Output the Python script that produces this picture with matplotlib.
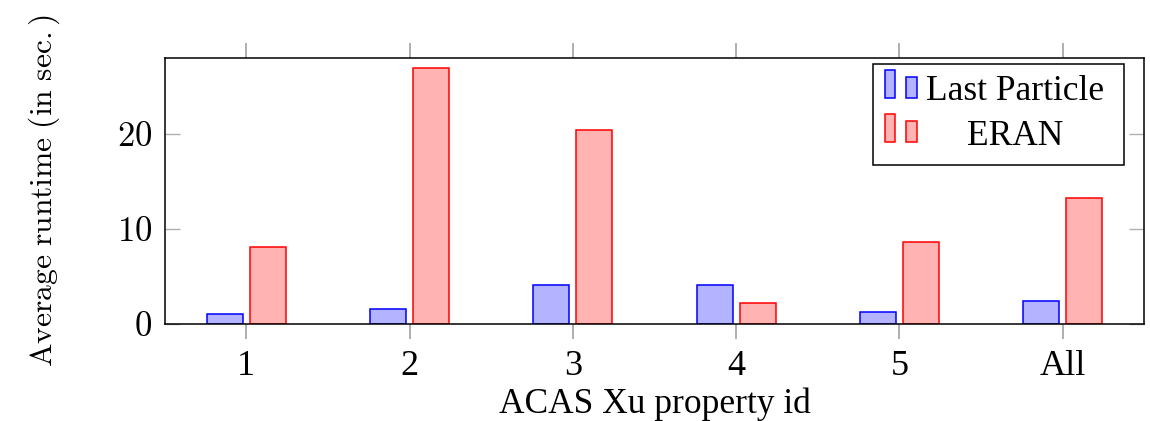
import matplotlib
matplotlib.use("Agg")
import matplotlib.pyplot as plt
import numpy as np
from matplotlib.patches import Rectangle
from matplotlib.offsetbox import AnchoredOffsetbox, DrawingArea, TextArea, VPacker, HPacker

# data
properties = ["1", "2", "3", "4", "5", "All"]
last_particle = [0.98, 1.55, 4.04, 4.04, 1.27, 2.39]
eran = [8.12, 26.9, 20.4, 2.14, 8.64, 13.25]

plt.rcParams["font.family"] = ["Liberation Serif", "DejaVu Serif"]
plt.rcParams["mathtext.fontset"] = "cm"

lp_face, lp_edge = "#b3b3ff", "#0000ff"
er_face, er_edge = "#ffb3b3", "#ff0000"

fig = plt.figure(figsize=(11.5, 4.21), dpi=100)
ax = fig.add_axes([0.1432, 0.2311, 0.8518, 0.6311])

x = np.arange(1, len(properties) + 1)
w = 0.22
off = 0.132
ax.bar(x - off, last_particle, w, color=lp_face, edgecolor=lp_edge, linewidth=1.1, zorder=2)
ax.bar(x + off, eran, w, color=er_face, edgecolor=er_edge, linewidth=1.1, zorder=2)

ax.set_xlim(0.5, 6.5)
ax.set_ylim(0, 28)
ax.set_xticks(x)
ax.set_xticklabels(properties, fontsize=26)
ax.set_yticks([0, 10, 20])
ax.set_yticklabels([f"${v}$" for v in [0, 10, 20]], fontsize=25)

ax.tick_params(axis="x", which="both", direction="out", length=10.5, width=1.1,
               color="#999999", top=True, bottom=True, pad=8.5)
ax.tick_params(axis="y", which="both", direction="in", length=10.5, width=1.0,
               color="#b0b0b0", left=True, right=True, pad=9)
for s in ax.spines.values():
    s.set_linewidth(1.1)
    s.set_color("black")

ax.set_xlabel("ACAS Xu property id", fontsize=25.5, labelpad=3)
ax.set_ylabel(r"$\mathrm{Average\ runtime\ (in\ sec.)}$", fontsize=22.7)
ax.yaxis.set_label_coords(-0.105, 0.5)

# legend with two small bars per entry and centred text, like pgfplots
def bar_icon(face, edge):
    da = DrawingArea(24, 23, 0, 5.5)
    da.add_artist(Rectangle((0.4, 1.0), 7.6, 20.5, facecolor=face, edgecolor=edge, lw=1.1))
    da.add_artist(Rectangle((15.8, 1.0), 7.6, 15.2, facecolor=face, edgecolor=edge, lw=1.1))
    return da

icons = VPacker(children=[bar_icon(lp_face, lp_edge), bar_icon(er_face, er_edge)],
                sep=8.5, align="left", pad=0)
labels = VPacker(children=[TextArea("Last Particle", textprops=dict(fontsize=25.5)),
                           TextArea("ERAN", textprops=dict(fontsize=25.5))],
                 sep=8.5, align="center", pad=0)
spacer = DrawingArea(0, 1, 0, 0)
box = HPacker(children=[icons, labels, spacer], sep=6, align="top", pad=0)
leg = AnchoredOffsetbox(loc="upper right", child=box, pad=0.32, borderpad=0,
                        frameon=True, bbox_to_anchor=(0.979, 0.977),
                        bbox_transform=ax.transAxes, prop=dict(size=25.5))
leg.patch.set_edgecolor("black")
leg.patch.set_linewidth(1.1)
leg.set_zorder(5)
ax.add_artist(leg)

fig.savefig("out.png", dpi=100)
